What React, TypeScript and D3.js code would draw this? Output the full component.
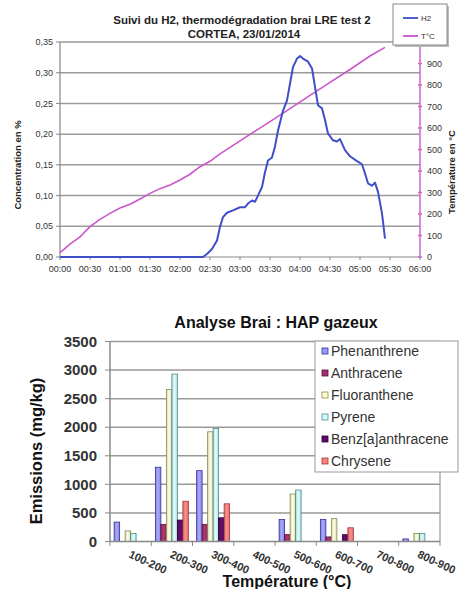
import React from "react";
import * as d3 from "d3";

const FONT = "'Liberation Sans', Arial, sans-serif";

// top chart: time in minutes since 00:00
const h2Times = [0, 143, 147, 152, 157, 160, 163, 167, 173, 180, 185, 188, 192, 195, 198, 202, 205, 208, 212, 215, 218, 223, 227, 230, 233, 237, 240, 243, 248, 252, 255, 258, 262, 265, 268, 273, 277, 280, 285, 290, 297, 302, 305, 308, 312, 315, 318, 322, 325];
const h2Values = [0, 0, 0.005, 0.013, 0.027, 0.049, 0.065, 0.072, 0.076, 0.081, 0.081, 0.087, 0.092, 0.09, 0.1, 0.114, 0.138, 0.157, 0.162, 0.18, 0.206, 0.238, 0.255, 0.282, 0.309, 0.323, 0.327, 0.323, 0.318, 0.307, 0.277, 0.247, 0.242, 0.223, 0.201, 0.19, 0.188, 0.192, 0.174, 0.164, 0.156, 0.151, 0.136, 0.12, 0.116, 0.121, 0.106, 0.071, 0.03];
const tempTimes = [0, 10, 20, 30, 40, 50, 60, 70, 80, 90, 100, 110, 120, 130, 140, 150, 160, 170, 190, 210, 230, 250, 270, 290, 310, 325];
const tempValues = [20, 60, 94, 141, 175, 203, 228, 245, 270, 296, 318, 335, 358, 385, 420, 445, 480, 510, 570, 630, 690, 752, 812, 872, 935, 975];
const leftTicks = [0, 0.05, 0.1, 0.15, 0.2, 0.25, 0.3, 0.35];
const rightTicks = [0, 100, 200, 300, 400, 500, 600, 700, 800, 900];
const timeTicks = d3.range(0, 361, 30);

// bottom chart
const categories = ["100-200", "200-300", "300-400", "400-500", "500-600", "600-700", "700-800", "800-900"];
const seriesNames = ["Phenanthrene", "Anthracene", "Fluoranthene", "Pyrene", "Benz[a]anthracene", "Chrysene"];
const phenanthrene = [340, 1300, 1240, 0, 385, 385, 0, 45];
const anthracene = [0, 300, 300, 0, 120, 80, 0, 0];
const fluoranthene = [185, 2660, 1920, 0, 830, 400, 0, 140];
const pyrene = [140, 2930, 1980, 0, 900, 0, 0, 140];
const benzAnthracene = [0, 375, 415, 0, 0, 120, 0, 0];
const chrysene = [0, 705, 660, 0, 0, 240, 0, 0];
const emissionTicks = [0, 500, 1000, 1500, 2000, 2500, 3000, 3500];

const seriesValues = [phenanthrene, anthracene, fluoranthene, pyrene, benzAnthracene, chrysene];
const fills = ["#9999FF", "#A3306E", "#FFFFCC", "#CCFFFF", "#5E0A66", "#FF8080"];
const strokes = ["#333399", "#5a1035", "#8a8a55", "#4f8a8a", "#2a0030", "#a03a3a"];

const fmtTime = (m: number) =>
  `${String(Math.floor(m / 60)).padStart(2, "0")}:${String(m % 60).padStart(2, "0")}`;

const TopChart = () => {
  const x = d3.scaleLinear().domain([0, 360]).range([60, 420]);
  const yL = d3.scaleLinear().domain([0, 0.35]).range([257, 42]);
  const yR = d3.scaleLinear().domain([0, 1000]).range([257, 42]);

  const h2Line = d3
    .line<number>()
    .x((d, i) => x(h2Times[i]))
    .y((d) => yL(d));
  const tLine = d3
    .line<number>()
    .x((d, i) => x(tempTimes[i]))
    .y((d) => yR(d));

  return (
    <g fontFamily={FONT}>
      <text x={242} y={24} textAnchor="middle" fontSize={11.5} fontWeight="bold" fill="#222">
        Suivi du H2, thermodégradation brai LRE test 2
      </text>
      <text x={244} y={38} textAnchor="middle" fontSize={11.5} fontWeight="bold" fill="#222">
        CORTEA, 23/01/2014
      </text>

      {leftTicks.slice(1).map((t) => (
        <line key={t} x1={60} x2={420} y1={yL(t)} y2={yL(t)} stroke="#9a9a9a" strokeWidth={1.5} />
      ))}
      {leftTicks.map((t) => (
        <g key={"l" + t}>
          <line x1={56} x2={60} y1={yL(t)} y2={yL(t)} stroke="#888" />
          <text x={53} y={yL(t)} dy="0.35em" textAnchor="end" fontSize={9} fill="#333">
            {d3.format(".2f")(t).replace(".", ",")}
          </text>
        </g>
      ))}
      <line x1={60} x2={60} y1={42} y2={257} stroke="#888" strokeWidth={1.2} />
      <line x1={60} x2={420} y1={257} y2={257} stroke="#888" strokeWidth={1.2} />
      {timeTicks.map((t) => (
        <g key={"t" + t}>
          <line x1={x(t)} x2={x(t)} y1={257} y2={260} stroke="#888" />
          <text x={x(t)} y={272} textAnchor="middle" fontSize={9} fill="#333">
            {fmtTime(t)}
          </text>
        </g>
      ))}

      <line x1={420} x2={420} y1={42} y2={257} stroke="#CC66CC" strokeWidth={1.5} />
      {rightTicks.map((t) => (
        <g key={"r" + t}>
          <line x1={418} x2={422} y1={yR(t)} y2={yR(t)} stroke="#CC66CC" strokeWidth={1.5} />
          <text x={427} y={yR(t)} dy="0.35em" fontSize={9} fill="#333">
            {t}
          </text>
        </g>
      ))}

      <text transform="translate(21,165) rotate(-90)" textAnchor="middle" fontSize={9.5} fontWeight="bold" fill="#222">
        Concentration en %
      </text>
      <text transform="translate(455,172) rotate(-90)" textAnchor="middle" fontSize={9.5} fontWeight="bold" fill="#222">
        Température en °C
      </text>

      <path d={tLine(tempValues) ?? ""} fill="none" stroke="#CC55CC" strokeWidth={1.6} />
      <path d={h2Line(h2Values) ?? ""} fill="none" stroke="#3F4FC8" strokeWidth={2} strokeLinejoin="round" />

      <rect x={395} y={6} width={54} height={41} fill="#bbb" />
      <rect x={393} y={4} width={54} height={41} fill="#fff" stroke="#888" />
      <line x1={403} x2={418} y1={18} y2={18} stroke="#3F4FC8" strokeWidth={1.8} />
      <text x={421} y={18} dy="0.35em" fontSize={8} fill="#333">H2</text>
      <line x1={403} x2={418} y1={36} y2={36} stroke="#CC55CC" strokeWidth={1.8} />
      <text x={421} y={36} dy="0.35em" fontSize={8} fill="#333">T°C</text>
    </g>
  );
};

const BarChart = () => {
  const x0 = d3.scaleBand<string>().domain(categories).range([110, 440]).padding(0);
  const x1 = d3
    .scaleBand<string>()
    .domain(seriesNames)
    .range([0, x0.bandwidth()])
    .paddingInner(0)
    .paddingOuter(0.75);
  const y = d3.scaleLinear().domain([0, 3500]).range([541.5, 341.5]);

  return (
    <g fontFamily={FONT}>
      <defs>
        {fills.map((c, i) => (
          <linearGradient key={i} id={"bg" + i} x1="0" x2="1" y1="0" y2="0">
            <stop offset="0" stopColor={d3.color(c)!.darker(0.5).toString()} />
            <stop offset="0.45" stopColor={d3.color(c)!.brighter(0.3).toString()} />
            <stop offset="1" stopColor={d3.color(c)!.darker(0.4).toString()} />
          </linearGradient>
        ))}
      </defs>
      <text x={276} y={328} textAnchor="middle" fontSize={16} fontWeight="bold" fill="#111">
        Analyse Brai : HAP gazeux
      </text>

      {emissionTicks.slice(1).map((t) => (
        <line key={t} x1={110} x2={440} y1={y(t)} y2={y(t)} stroke="#999" strokeWidth={1.5} />
      ))}
      <line x1={440} x2={440} y1={341.5} y2={541.5} stroke="#999" strokeWidth={1.2} />
      {emissionTicks.map((t) => (
        <g key={"e" + t}>
          <line x1={105} x2={110} y1={y(t)} y2={y(t)} stroke="#888" />
          <text x={97} y={y(t)} dy="0.35em" textAnchor="end" fontSize={15} fontWeight="bold" fill="#333">
            {t}
          </text>
        </g>
      ))}

      {categories.map((c, ci) => (
        <g key={c}>
          {seriesValues.map((vals, si) =>
            vals[ci] > 0 ? (
              <rect
                key={si}
                x={x0(c)! + x1(seriesNames[si])!}
                y={y(vals[ci])}
                width={x1.bandwidth()}
                height={y(0) - y(vals[ci])}
                fill={`url(#bg${si})`}
                stroke={strokes[si]}
                strokeWidth={0.8}
              />
            ) : null
          )}
        </g>
      ))}

      <line x1={110} x2={110} y1={341.5} y2={541.5} stroke="#888" strokeWidth={1.5} />
      <line x1={110} x2={440} y1={541.5} y2={541.5} stroke="#888" strokeWidth={1.5} />
      {categories.map((c) => (
        <line key={"tk" + c} x1={x0(c)! + x0.bandwidth()} x2={x0(c)! + x0.bandwidth()} y1={541.5} y2={546} stroke="#888" />
      ))}
      <line x1={110} x2={110} y1={541.5} y2={546} stroke="#888" />
      {categories.map((c) => (
        <text
          key={"cl" + c}
          transform={`translate(${x0(c)! + x0.bandwidth() / 2 + 1},${549}) rotate(25)`}
          dy="0.8em"
          fontSize={11}
          fontWeight="bold"
          fill="#333"
        >
          {c}
        </text>
      ))}

      <text transform="translate(42,451) rotate(-90)" textAnchor="middle" fontSize={16.5} fontWeight="bold" fill="#111">
        Emissions (mg/kg)
      </text>
      <text x={287} y={587} textAnchor="middle" fontSize={16} fontWeight="bold" fill="#111">
        Température (°C)
      </text>

      <rect x={315} y={341} width={143} height={131} fill="#fff" stroke="#999" />
      {seriesNames.map((s, i) => (
        <g key={"lg" + s}>
          <rect x={322} y={351 + i * 22 - 3} width={6} height={6} fill={fills[i]} stroke={strokes[i]} strokeWidth={0.8} />
          <text x={331} y={351 + i * 22} dy="0.35em" fontSize={14} fill="#333">
            {s}
          </text>
        </g>
      ))}
    </g>
  );
};

export default function App() {
  return (
    <svg
      width={460}
      height={589}
      style={{ position: "absolute", left: 0, top: 0, background: "#fff" }}
    >
      <rect width={460} height={589} fill="#fff" />
      <TopChart />
      <BarChart />
    </svg>
  );
}
